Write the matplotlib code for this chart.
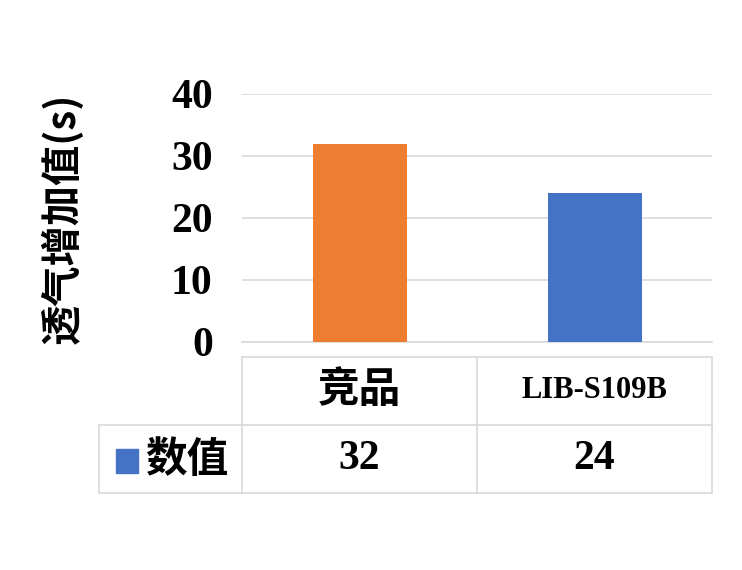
import matplotlib
matplotlib.use("Agg")
import matplotlib.pyplot as plt
from matplotlib.patches import Rectangle

categories = ["竞品", "LIB-S109B"]
values = [32, 24]
series_name = "数值"
bar_colors = ["#ED7D31", "#4472C4"]
yticks = [0, 10, 20, 30, 40]
ylabel = "透气增加值(s)"

W, H = 742, 570
fig = plt.figure(figsize=(W / 100, H / 100), dpi=100)

def px(x0, y0, x1, y1):
    return [x0 / W, 1 - y1 / H, (x1 - x0) / W, (y1 - y0) / H]

serif = ["Liberation Serif", "DejaVu Serif"]
cjk = ["Noto Sans CJK SC", "DejaVu Sans"]

ax = fig.add_axes(px(242, 94, 712, 342))
xs = list(range(len(categories)))
ax.bar(xs, values, width=0.40, color=bar_colors, zorder=3)
ax.set_xlim(-0.5, len(categories) - 0.5)
ax.set_ylim(0, 40)
ax.set_yticks(yticks)
ax.set_yticklabels([str(t) for t in yticks], fontfamily=serif, fontweight="bold", fontsize=30)
ax.tick_params(axis="y", length=0, pad=21)
ax.set_xticks([])
ax.grid(axis="y", color="#D9D9D9", linewidth=1.2, zorder=0)
for s in ["top", "right", "left"]:
    ax.spines[s].set_visible(False)
ax.spines["bottom"].set_color("#D9D9D9")
ax.spines["bottom"].set_linewidth(1.2)
fig.text(62 / W, 1 - 218 / H, ylabel, rotation=90, ha="center", va="center",
         fontsize=29, fontfamily=cjk, fontweight="bold")

# data table
tl, tr, ttop, tmid, tbot = 99, 712, 357, 428, 493
ta = fig.add_axes(px(tl, ttop, tr, tbot))
left_ext = -0.5 - (242 - tl) / ((712 - 242) / len(categories))
ta.set_xlim(left_ext, len(categories) - 0.5)
ta.set_ylim(0, 2)
ta.axis("off")
lc = "#D9D9D9"
lw = 1.2
ta.plot([-0.5, len(categories) - 0.5], [2, 2], color=lc, lw=lw, clip_on=False)
ta.plot([left_ext, len(categories) - 0.5], [1, 1], color=lc, lw=lw, clip_on=False)
ta.plot([left_ext, len(categories) - 0.5], [0, 0], color=lc, lw=lw, clip_on=False)
ta.plot([left_ext, left_ext], [0, 1], color=lc, lw=lw, clip_on=False)
for b in [i - 0.5 for i in range(len(categories) + 1)]:
    ta.plot([b, b], [0, 2], color=lc, lw=lw, clip_on=False)
for i, (c, v) in enumerate(zip(categories, values)):
    if all(ord(ch) < 128 for ch in c):
        ta.text(i, 1.5, c, ha="center", va="center", fontsize=22, fontfamily=serif, fontweight="bold")
    else:
        ta.text(i, 1.52, c, ha="center", va="center", fontsize=30, fontfamily=cjk, fontweight="bold")
    ta.text(i, 0.5, str(v), ha="center", va="center", fontsize=30, fontfamily=serif, fontweight="bold")

fig.patches.append(Rectangle((116 / W, 1 - 473 / H), 22 / W, 24 / H, transform=fig.transFigure,
                             color=bar_colors[1]))
fig.text(187 / W, 1 - 460 / H, series_name, ha="center", va="center", fontsize=30,
         fontfamily=cjk, fontweight="bold")

fig.savefig("out.png", dpi=100)
